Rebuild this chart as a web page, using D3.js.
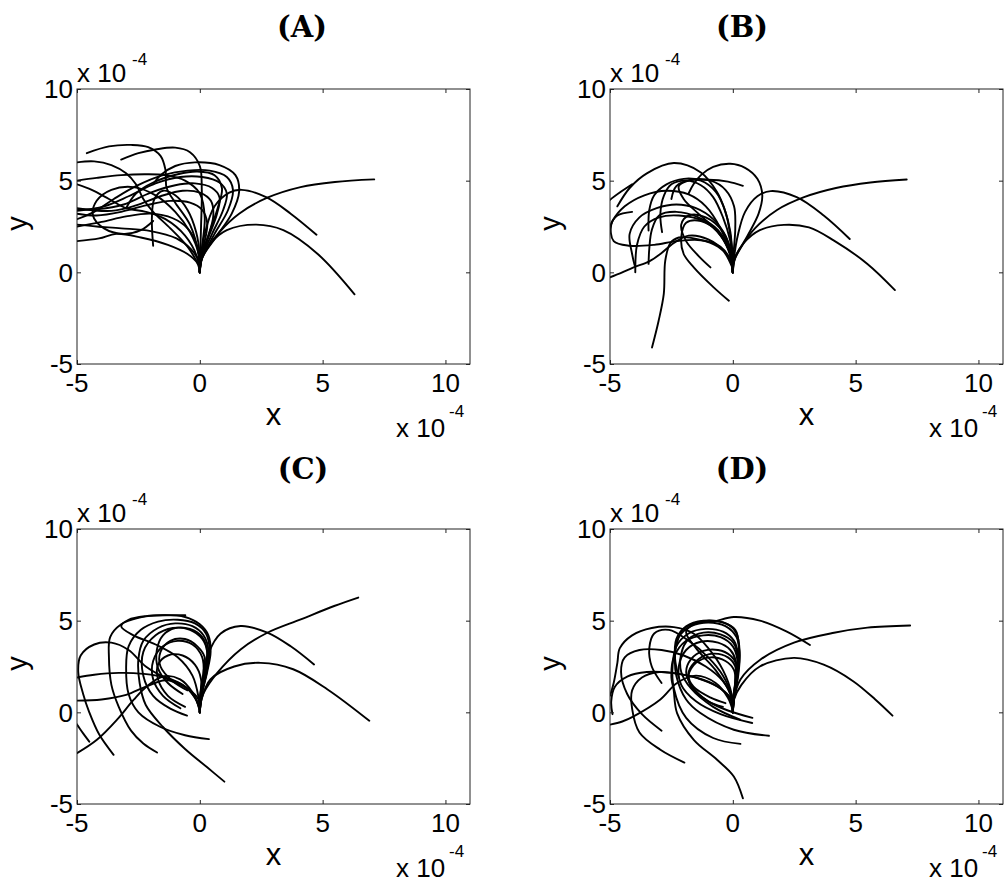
<!DOCTYPE html>
<html><head><meta charset="utf-8">
<script src="https://cdn.jsdelivr.net/npm/d3@7"></script>
<style>body{margin:0;background:#fff}</style>
</head><body>
<svg id="chart" width="1006" height="882"></svg>
<script>
// ---- data (units of 1e-4) ----
const xTicks = [-5, 0, 5, 10];
const yTicks = [-5, 0, 5, 10];
const xDomain = [-5, 11];
const yDomain = [-5, 10];
const panelTitles = ["(A)", "(B)", "(C)", "(D)"];
const exponentLabel = "x 10";
const exponentPower = "-4";

const curvesA = [
  [[0,0],[0.05,0.6],[0.3,1.3],[0.8,2.2],[1.6,3.2],[2.75,4.07],[4.1,4.65],[5.5,4.93],[7.1,5.07]],
  [[0,0],[0.05,0.7],[0.45,1.6],[1.1,2.3],[2.3,2.6],[3.4,2.3],[4.8,1.0],[6.3,-1.2]],
  [[0,0.05],[0.05,0.8],[0.2,2.1],[0.6,3.6],[1.2,4.35],[1.7,4.5],[2.7,4.1],[3.7,3.2],[4.75,2.05]],
  [[0,0],[0.1,0.8],[0.7,2.0],[1.3,3.2],[1.6,4.4],[1.45,5.3],[0.8,5.85],[-0.2,6.0],[-1.0,5.8],[-1.6,5.3],[-1.9,4.8]],
  [[0,0],[0.02,1.0],[0.05,2.5],[0.08,4.5],[0,5.8],[-0.4,6.55],[-1.0,6.8],[-1.8,6.7],[-2.5,6.5],[-3.2,6.15]],
  [[0,0],[-0.05,1.0],[-0.4,2.6],[-1.0,3.8],[-1.35,4.6],[-1.4,5.6],[-1.6,6.35],[-2.1,6.83],[-2.8,6.95],[-3.7,6.87],[-4.6,6.5]],
  [[0,0],[0.1,0.8],[0.6,2.1],[1.15,3.4],[1.35,4.5],[1.1,5.2],[0.4,5.55],[-0.5,5.55],[-1.5,5.3],[-2.6,4.7],[-3.5,4.0],[-4.3,3.3],[-5,2.9]],
  [[0,0],[0.08,0.8],[0.5,2.1],[0.95,3.4],[1.1,4.3],[0.8,4.9],[0.1,5.2],[-0.8,5.2],[-1.8,4.85],[-2.9,4.15],[-3.9,3.6],[-5,3.35]],
  [[0,0],[0.06,0.8],[0.35,1.9],[0.7,3.2],[0.8,4.1],[0.5,4.6],[-0.2,4.85],[-1.0,4.75],[-2.0,4.35],[-3.1,3.7],[-4.1,3.45],[-5,3.45]],
  [[0,0],[0.04,0.8],[0.3,1.8],[0.55,3.1],[0.45,3.9],[0,4.35],[-0.7,4.45],[-1.6,4.15],[-2.6,3.65],[-3.6,3.35],[-5,3.5]],
  [[0,0],[0.02,0.8],[0.2,1.7],[0.3,2.7],[0.1,3.4],[-0.4,3.8],[-1.2,3.9],[-2.2,3.65],[-3.2,3.3],[-4.2,3.1],[-5,3.2]],
  [[0,0],[-0.02,0.8],[-0.15,1.6],[-0.5,2.4],[-1.1,2.95],[-2.0,3.2],[-3.0,3.05],[-4.0,2.75],[-5,2.5]],
  [[0,0],[-0.05,0.6],[-0.35,1.25],[-0.95,1.85],[-2.0,2.25],[-3.2,2.4],[-4.2,2.5],[-5,2.6]],
  [[0,0],[-0.1,0.5],[-0.5,1.0],[-1.3,1.5],[-2.4,1.9],[-3.4,2.1],[-4.1,1.85],[-5,1.7]],
  [[0,0],[0,0.9],[-0.15,2.2],[-0.5,3.4],[-1.0,4.2],[-1.5,4.45],[-1.85,4.0],[-1.95,3.0],[-1.9,1.45]],
  [[0,0],[-0.05,1.0],[-0.4,2.2],[-1.0,3.3],[-1.8,4.2],[-2.7,4.65],[-3.6,4.5],[-4.2,3.9],[-4.35,3.1],[-3.9,2.4],[-3.1,2.1],[-2.4,2.3],[-1.9,2.8]],
  [[-5,6.0],[-4.3,6.05],[-3.6,5.85],[-3.0,5.4],[-2.6,4.8],[-2.3,4.0],[-1.9,3.3],[-1.2,2.4],[-0.5,1.4],[0,0.3]],
  [[-5,5.0],[-4.2,5.15],[-3.2,5.3],[-2.2,5.35],[-1.4,5.3],[-0.6,5.0],[0,4.3],[0.2,3.0],[0.1,1.5],[0,0.3]],
  [[0,0],[0.05,0.8],[0.4,2.2],[0.75,3.6],[0.9,4.6],[0.6,5.3],[-0.1,5.5],[-0.9,5.35],[-1.9,4.9],[-2.6,4.3],[-3.0,3.5]],
  [[-5,4.8],[-4.4,4.5],[-3.7,4.0],[-3.0,3.5],[-2.2,3.3],[-1.4,2.9],[-0.6,2.0],[-0.1,0.8],[0,0]]
];

const curvesB = [
  [[0,0],[0.05,0.6],[0.35,1.4],[0.9,2.4],[1.8,3.4],[2.9,4.1],[4.2,4.6],[5.6,4.9],[7.08,5.06]],
  [[0,0],[0.05,0.7],[0.45,1.6],[1.1,2.3],[2.08,2.59],[3.1,2.45],[4.12,1.73],[5.48,0.46],[6.6,-0.97]],
  [[0,0],[0.05,0.8],[0.2,2.0],[0.5,3.3],[1.0,4.15],[1.54,4.43],[2.6,4.1],[3.7,3.1],[4.76,1.82]],
  [[0,0],[0.1,0.8],[0.6,2.0],[1.05,3.2],[1.2,4.2],[1.0,5.1],[0.5,5.7],[-0.1,5.92],[-0.8,5.75],[-1.3,5.3],[-1.6,4.8],[-1.8,4.3]],
  [[0,0],[-0.02,0.8],[-0.1,2.2],[-0.35,3.5],[-0.65,4.4],[-1.3,5.45],[-2.4,5.96],[-3.5,5.4],[-4.2,4.6],[-4.7,3.6]],
  [[-5.3,3.5],[-5,3.95],[-4.5,4.45],[-4.1,4.8]],
  [[0,0],[0,0.8],[-0.1,2.0],[-0.3,3.3],[-0.7,4.4],[-1.3,5.0],[-2.0,5.1],[-2.7,4.8],[-3.2,4.2],[-3.4,3.4],[-3.43,2.28]],
  [[0,0],[-0.02,0.8],[-0.12,1.8],[-0.4,3.0],[-0.8,4.1],[-1.3,4.75],[-1.9,5.0],[-2.5,4.8],[-2.8,4.2],[-2.95,3.2],[-2.88,2.19]],
  [[0,0],[-0.1,1.0],[-0.6,2.2],[-1.4,3.2],[-2.0,4.0],[-2.2,4.7],[-1.8,5.0],[-1.0,5.05],[-0.2,4.95],[0.41,4.72]],
  [[0,0],[-0.1,0.7],[-0.5,1.4],[-1.3,1.75],[-2.3,1.7],[-3.2,1.5],[-4.2,1.45],[-4.85,1.7],[-4.95,2.6],[-4.7,3.1],[-4.1,3.3]],
  [[-5,-0.27],[-4.5,0],[-4.04,0.27],[-3.4,0.6],[-2.95,1.0],[-2.4,1.6],[-1.8,2.0],[-1.0,1.8],[-0.4,1.2],[0,0.2]],
  [[0,0],[-0.1,0.9],[-0.5,2.0],[-1.2,2.8],[-2.2,3.1],[-3.0,3.0],[-3.6,2.5],[-3.9,1.5],[-3.97,0]],
  [[0,0],[-0.1,1.0],[-0.6,2.3],[-1.4,3.0],[-2.3,3.3],[-3.0,3.1],[-3.3,2.3],[-3.4,1.3],[-3.43,0.46]],
  [[0,0],[-0.1,0.7],[-0.6,1.4],[-1.4,1.8],[-2.2,1.9],[-2.54,1.6],[-2.75,0.64],[-2.81,-1.18],[-3.02,-2.64],[-3.29,-4.1]],
  [[0,0],[-0.05,1.0],[-0.4,2.2],[-1.1,3.0],[-1.8,3.1],[-2.1,2.6],[-1.9,1.7],[-1.4,0.9],[-0.91,0.27]],
  [[0,0],[-0.1,1.0],[-0.6,2.2],[-1.3,2.8],[-1.9,2.7],[-2.1,1.9],[-2.0,1.0],[-1.59,0.27],[-0.78,-0.82],[-0.16,-1.55]],
  [[0,0],[-0.1,1.0],[-0.5,2.4],[-1.1,3.6],[-1.8,4.25],[-2.7,4.45],[-3.6,4.2],[-4.4,3.6],[-4.9,2.8],[-5,2.4]],
  [[0,0],[0.03,1.0],[0.1,2.4],[0.05,3.6],[-0.3,4.5],[-0.9,5.0],[-1.7,5.05],[-2.3,4.7],[-2.5,4.0]],
  [[0,0],[-0.05,0.9],[-0.3,2.0],[-0.8,2.9],[-1.5,3.5],[-2.3,3.7],[-3.1,3.5],[-3.8,3.0],[-4.2,2.1],[-4.1,1.0],[-4.0,0.4]]
];

const curvesC = [
  [[0,0],[0.05,0.6],[0.16,1.06],[0.71,2.15],[1.66,3.43],[2.75,4.34],[4.11,5.07],[5.47,5.8],[6.45,6.26]],
  [[0,0],[0.05,0.8],[0.2,2.0],[0.37,3.25],[0.85,4.3],[1.66,4.71],[2.75,4.35],[3.7,3.6],[4.65,2.61]],
  [[0,0],[0.05,0.6],[0.43,1.8],[1.4,2.5],[2.48,2.7],[3.8,2.35],[5.2,1.25],[6.9,-0.46]],
  [[0,0],[0.05,0.8],[0.3,2.2],[0.44,3.3],[0.35,4.2],[0,4.8],[-0.6,5.2],[-1.5,5.3],[-2.5,5.15],[-3.2,4.8],[-3.65,4.1],[-3.7,3.0],[-3.6,1.5],[-3.3,0.3],[-2.8,-1.0],[-2.3,-1.7],[-1.74,-2.19]],
  [[0,0],[0.05,0.8],[0.28,2.2],[0.4,3.4],[0.25,4.3],[-0.2,4.85],[-0.9,5.05],[-1.7,4.95],[-2.4,4.5],[-2.9,3.6],[-3.0,2.4],[-2.9,1.0],[-2.5,0],[-1.6,-0.8],[-0.6,-1.25],[0.37,-1.46]],
  [[0,0],[0.05,0.8],[0.25,2.2],[0.35,3.4],[0.15,4.2],[-0.3,4.7],[-1.0,4.85],[-1.7,4.6],[-2.3,3.9],[-2.5,2.9],[-2.45,1.6],[-2.2,0.4],[-1.5,-0.8],[-0.6,-2.0],[0.3,-3.0],[1.0,-3.78]],
  [[0,0],[0.05,0.8],[0.2,2.2],[0.3,3.3],[0.1,4.0],[-0.4,4.5],[-1.1,4.6],[-1.8,4.2],[-2.3,3.3],[-2.3,2.0],[-1.9,0.9],[-1.2,0.2],[-0.52,-0.18]],
  [[0,0],[-0.05,0.8],[-0.3,2.0],[-0.9,3.0],[-1.8,3.7],[-2.7,4.2],[-3.2,4.7],[-2.9,5.05],[-2.2,5.25],[-1.2,5.3],[-0.59,5.3]],
  [[0,0],[0.03,0.8],[0.15,2.0],[0.1,3.0],[-0.3,3.7],[-0.9,3.9],[-1.5,3.6],[-1.9,2.8],[-1.9,1.8],[-1.5,0.9],[-0.79,0.22]],
  [[0,0],[0.02,0.8],[0.05,1.8],[-0.2,2.6],[-0.7,3.1],[-1.3,3.1],[-1.7,2.6],[-1.7,1.8],[-1.3,0.9],[-0.6,0.3]],
  [[0,0],[-0.05,0.7],[-0.5,1.3],[-1.3,1.8],[-2.2,2.5],[-2.9,3.4],[-3.6,3.8],[-4.3,3.7],[-4.85,3.1],[-4.95,2.2],[-4.75,1.0],[-4.5,0],[-4.1,-1.2],[-3.51,-2.32]],
  [[-5,-2.23],[-4.19,-1.5],[-3.37,-0.4],[-2.69,0.69],[-2.15,1.42],[-1.47,1.97],[-0.8,1.8],[-0.3,1.1],[0,0.2]],
  [[-5,1.9],[-4.3,2.05],[-3.3,2.15],[-2.3,2.1],[-1.4,1.9],[-0.6,1.4],[-0.15,0.7],[0,0]],
  [[-5,0.64],[-4.0,0.7],[-3.0,0.95],[-2.2,1.4],[-1.4,1.75],[-0.7,1.5],[-0.2,0.8],[0,0.1]],
  [[-5.2,-0.3],[-5,-0.67],[-4.75,-1.15],[-4.5,-1.6]],
  [[0,0],[0.03,1.0],[0.2,2.3],[0.3,3.3],[0.1,4.1],[-0.4,4.55],[-1.0,4.6],[-1.5,4.2],[-1.75,3.4],[-1.7,2.4],[-1.3,1.6],[-0.7,1.0]],
  [[0,0],[0.02,1.0],[0.15,2.2],[0.2,3.0],[-0.1,3.6],[-0.6,4.0],[-1.2,3.9],[-1.6,3.3],[-1.6,2.5],[-1.1,1.7],[-0.5,1.2]]
];

const curvesD = [
  [[0,0],[0.04,0.69],[0.31,1.79],[1.13,2.88],[2.49,3.8],[4.12,4.34],[5.48,4.62],[7.22,4.74]],
  [[0,0],[0.05,0.7],[0.35,1.5],[1.1,2.5],[2.49,2.97],[3.7,2.6],[4.9,1.7],[5.8,0.7],[6.5,-0.18]],
  [[0,0],[-0.1,1.0],[-0.7,2.3],[-1.5,3.5],[-1.9,4.4],[-1.5,4.85],[-0.8,4.95],[0.04,5.2],[1.1,5.0],[2.2,4.4],[3.14,3.67]],
  [[0,0],[0.05,0.8],[0.2,2.0],[0.27,3.2],[0.15,4.1],[-0.3,4.7],[-1.0,4.9],[-1.7,4.7],[-2.2,4.1],[-2.35,3.1],[-2.3,2.0],[-1.9,0.7],[-1.32,-0.04],[0.04,-0.95],[1.47,-1.28]],
  [[0,0],[0.05,0.8],[0.18,2.0],[0.22,3.1],[0.05,3.9],[-0.4,4.4],[-1.1,4.55],[-1.8,4.3],[-2.3,3.6],[-2.45,2.6],[-2.4,1.3],[-1.9,-0.3],[-0.8,-1.4],[0.31,-1.72]],
  [[0,0],[0.05,0.8],[0.15,2.0],[0.18,2.9],[0,3.6],[-0.5,4.1],[-1.2,4.2],[-1.9,3.9],[-2.4,3.0],[-2.5,1.9],[-2.41,1.24],[-2.27,-0.04],[-1.59,-1.5],[-0.64,-2.59],[0.04,-3.5],[0.41,-4.69]],
  [[0,0],[0.03,0.8],[0.12,1.9],[0.12,2.8],[-0.1,3.4],[-0.6,3.8],[-1.3,3.85],[-1.9,3.4],[-2.2,2.5],[-2.1,1.5],[-1.5,0.6],[-0.5,-0.1],[0.79,-0.58]],
  [[0,0],[-0.05,0.7],[-0.5,1.3],[-1.3,1.8],[-2.2,2.1],[-3.0,2.2],[-3.7,1.9],[-4.1,1.2],[-4.1,0.2],[-3.8,-1.1],[-2.95,-2.04],[-1.97,-2.74]],
  [[0,0],[-0.05,1.0],[-0.4,2.3],[-1.0,3.5],[-1.6,4.3],[-2.4,4.65],[-3.3,4.6],[-4.1,4.2],[-4.6,3.5],[-4.7,2.7],[-4.85,1.6],[-5.0,0.9]],
  [[-5,-0.67],[-4.5,-0.5],[-4.04,-0.22],[-2.95,0.7],[-2.27,1.6],[-1.5,2.0],[-0.7,1.6],[-0.2,0.8],[0,0.1]],
  [[0,0],[-0.05,0.8],[-0.4,1.7],[-1.1,2.5],[-2.0,3.1],[-2.9,3.4],[-3.8,3.4],[-4.4,3.0],[-4.55,2.2],[-4.3,1.0],[-3.7,-0.1],[-2.9,-1.0]],
  [[0,0],[-0.1,0.7],[-0.6,1.4],[-1.5,1.9],[-2.5,2.15],[-3.5,2.2],[-4.3,1.95],[-4.8,1.4],[-4.95,0.6],[-4.9,-0.1]],
  [[0,0],[-0.05,0.9],[-0.4,2.0],[-1.0,3.0],[-1.8,3.9],[-2.6,4.5],[-3.2,4.3],[-3.4,3.5],[-3.3,2.5],[-2.9,1.6]],
  [[0,0],[0.05,0.8],[0.22,2.0],[0.28,3.3],[0.15,4.3],[-0.2,4.8],[-0.9,5.0],[-1.6,4.85],[-2.1,4.4],[-2.3,3.6]],
  [[0,0],[0.03,0.8],[0.15,1.8],[0.15,2.6],[-0.1,3.1],[-0.6,3.4],[-1.2,3.35],[-1.7,2.9],[-1.9,2.2],[-1.7,1.5],[-1.0,0.6],[-0.4,0.3]],
  [[0,0],[0.02,0.8],[0.1,1.6],[0.05,2.3],[-0.3,2.8],[-0.9,3.0],[-1.5,2.7],[-1.8,2.0],[-1.6,1.4],[-0.9,0.8],[-0.3,0.5]],
  [[0,0],[0.05,0.8],[0.2,2.2],[0.25,3.6],[0.1,4.5],[-0.4,4.9],[-1.2,5.0],[-1.9,4.7],[-2.3,4.0],[-2.35,2.9],[-2.2,1.9]],
  [[0,0],[0.04,0.8],[0.16,1.9],[0.2,3.0],[0.02,3.8],[-0.5,4.25],[-1.2,4.35],[-1.8,4.0],[-2.1,3.2],[-2.1,2.2],[-1.7,1.3],[-0.8,0.3],[0.3,-0.4]],
  [[0,0],[0.02,0.8],[0.1,1.7],[0.1,2.5],[-0.2,3.0],[-0.8,3.2],[-1.4,2.9],[-1.8,2.2],[-1.7,1.4],[-1.0,0.6],[-0.2,0.1],[0.8,-0.3]]
];

// ---- layout ----
const allCurves = [curvesA, curvesB, curvesC, curvesD];
const boxW = 393, boxH = 275;
const layout = [
  {left: 77,  top: 89,  titleX: 302, titleY: 37},
  {left: 610, top: 89,  titleX: 742, titleY: 37},
  {left: 77,  top: 529, titleX: 303, titleY: 479},
  {left: 610, top: 529, titleX: 742, titleY: 479}
];
const labelFont = "'Liberation Sans', Arial, Helvetica, sans-serif";
const svg = d3.select("#chart");

layout.forEach((L, i) => {
  const x = d3.scaleLinear().domain(xDomain).range([0, boxW]);
  const y = d3.scaleLinear().domain(yDomain).range([boxH, 0]);
  const g = svg.append("g").attr("transform", `translate(${L.left},${L.top})`);

  // title
  svg.append("text").attr("x", L.titleX).attr("y", L.titleY)
    .attr("text-anchor", "middle")
    .style("font-family", "'DejaVu Serif', serif").style("font-weight", "bold")
    .style("font-size", "29px").text(panelTitles[i]);

  // clip
  const cid = "clip" + i;
  g.append("clipPath").attr("id", cid).append("rect")
    .attr("x", 0).attr("y", 0).attr("width", boxW).attr("height", boxH);

  // curves
  const line = d3.line().x(d => x(d[0])).y(d => y(d[1])).curve(d3.curveCatmullRom.alpha(0.5));
  g.append("g").attr("clip-path", `url(#${cid})`)
    .selectAll("path").data(allCurves[i]).join("path")
    .attr("d", line).attr("fill", "none").attr("stroke", "#000")
    .attr("stroke-width", 1.9).attr("stroke-linejoin", "round").attr("stroke-linecap", "round");

  // axes box
  g.append("rect").attr("x", 0).attr("y", 0).attr("width", boxW).attr("height", boxH)
    .attr("fill", "none").attr("stroke", "#222").attr("stroke-width", 1);

  // ticks (inside, all sides) via d3 axes
  const tl = 4;
  const axB = g.append("g").attr("transform", `translate(0,${boxH})`)
    .call(d3.axisTop(x).tickValues(xTicks).tickSize(tl).tickFormat(""));
  const axT = g.append("g").call(d3.axisBottom(x).tickValues(xTicks).tickSize(tl).tickFormat(""));
  const axL = g.append("g").call(d3.axisRight(y).tickValues(yTicks).tickSize(tl).tickFormat(""));
  const axR = g.append("g").attr("transform", `translate(${boxW},0)`)
    .call(d3.axisLeft(y).tickValues(yTicks).tickSize(tl).tickFormat(""));
  [axB, axT, axL, axR].forEach(a => { a.select(".domain").remove(); a.selectAll("line").attr("stroke", "#222"); });

  // tick labels
  g.selectAll(".xl").data(xTicks).join("text")
    .attr("x", d => x(d)).attr("y", boxH + 28).attr("text-anchor", "middle")
    .style("font-family", labelFont).style("font-size", "26px").text(d => d);
  g.selectAll(".yl").data(yTicks).join("text")
    .attr("x", -4).attr("y", d => y(d)).attr("dy", "0.36em").attr("text-anchor", "end")
    .style("font-family", labelFont).style("font-size", "26px").text(d => d);

  // exponent labels
  g.append("text").attr("x", 0).attr("y", -7)
    .style("font-family", labelFont).style("font-size", "26px").text(exponentLabel);
  g.append("text").attr("x", 55).attr("y", -24)
    .style("font-family", labelFont).style("font-size", "17px").text(exponentPower);
  g.append("text").attr("x", boxW - 74).attr("y", boxH + 73)
    .style("font-family", labelFont).style("font-size", "26px").text(exponentLabel);
  g.append("text").attr("x", boxW - 21).attr("y", boxH + 53)
    .style("font-family", labelFont).style("font-size", "17px").text(exponentPower);

  // axis labels
  g.append("text").attr("x", boxW / 2).attr("y", boxH + 61).attr("text-anchor", "middle")
    .style("font-family", labelFont).style("font-size", "31px").text("x");
  g.append("text").attr("transform", `translate(${27 - L.left + (i % 2 ? 533 : 0)},${boxH / 2 - 3}) rotate(-90)`)
    .attr("text-anchor", "middle")
    .style("font-family", labelFont).style("font-size", "29px").text("y");
});
</script>
</body></html>
